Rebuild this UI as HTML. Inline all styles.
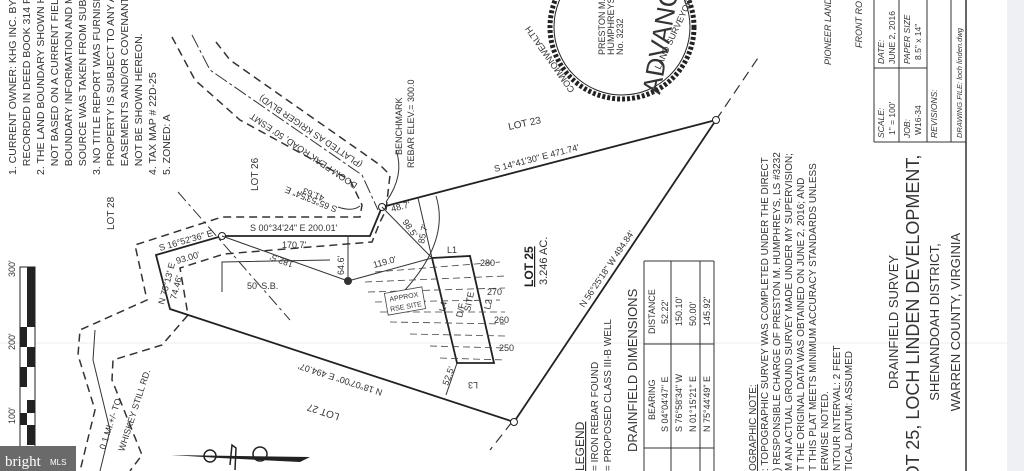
<!DOCTYPE html>
<html><head><meta charset="utf-8"><style>
html,body{margin:0;padding:0;background:#fff;}
svg{display:block;font-family:"Liberation Sans",sans-serif;}
</style></head><body>
<svg width="1024" height="471" viewBox="0 0 1024 471" xmlns="http://www.w3.org/2000/svg">
<rect width="1024" height="471" fill="#fff"/>
<rect x="1007" y="0" width="17" height="471" fill="#eef0f4"/>
<line x1="0" y1="343" x2="1024" y2="343" stroke="#eee" stroke-width="1"/>

<!-- notes -->
<g font-size="10.5" fill="#333">
<text transform="translate(16,175) rotate(-90)">1. CURRENT OWNER: KHG INC. BY DEED</text>
<text transform="translate(30,175) rotate(-90)">&#160;&#160;&#160;RECORDED IN DEED BOOK 314 PAGE</text>
<text transform="translate(44,175) rotate(-90)">2. THE LAND BOUNDARY SHOWN HEREON</text>
<text transform="translate(58,175) rotate(-90)">&#160;&#160;&#160;NOT BASED ON A CURRENT FIELD SURVEY</text>
<text transform="translate(72,175) rotate(-90)">&#160;&#160;&#160;BOUNDARY INFORMATION AND METES</text>
<text transform="translate(86,175) rotate(-90)">&#160;&#160;&#160;SOURCE WAS TAKEN FROM SUBDIVISION</text>
<text transform="translate(100,175) rotate(-90)">3. NO TITLE REPORT WAS FURNISHED</text>
<text transform="translate(114,175) rotate(-90)">&#160;&#160;&#160;PROPERTY IS SUBJECT TO ANY ADDITIONAL</text>
<text transform="translate(128,175) rotate(-90)">&#160;&#160;&#160;EASEMENTS AND/OR COVENANTS THAT</text>
<text transform="translate(142,175) rotate(-90)">&#160;&#160;&#160;NOT BE SHOWN HEREON.</text>
<text transform="translate(156,175) rotate(-90)">4. TAX MAP # 22D-25</text>
<text transform="translate(170,175) rotate(-90)">5. ZONED: A</text>
</g>

<!-- road dashed lines -->
<g fill="none" stroke="#333" stroke-width="1.5" stroke-dasharray="8,5">
<path d="M172,37 L195,80 L240,120 L350,180 L362,205 L360,217 L222,217 L135,245 L147,300 L80,330 L78,355 L95,410 L80,471"/>
<path d="M216,42 L230,60 L380,165 L390,175 L386,210 L380,222 L372,242 L224,254 L180,268 L188,315 L162,345 L113,360 L112,380 L142,455 L130,471"/>
</g>
<path d="M192,35 L210,70 L362,175 L378,210" fill="none" stroke="#333" stroke-width="1" stroke-dasharray="14,3,3,3"/>
<path d="M178,192 L290,320" fill="none" stroke="#333" stroke-width="1" stroke-dasharray="12,4,3,4"/>
<path d="M95,330 L93,360 L110,430 L100,471" fill="none" stroke="#333" stroke-width="1"/>
<path d="M716,120 L760,55" fill="none" stroke="#333" stroke-width="1.2" stroke-dasharray="10,6"/>
<path d="M512,422 L490,450" fill="none" stroke="#333" stroke-width="1.2" stroke-dasharray="10,6"/>

<!-- main boundary -->
<g fill="none" stroke="#222" stroke-width="1.8">
<path d="M382,207 L716,120 L514,422 L170,309 L156,255 L222,236 L370,236 L382,207"/>
<path d="M432,258 L470,256 L494,363 L457,363 Z"/>
</g>
<circle cx="382" cy="207" r="3.5" fill="#fff" stroke="#222"/>
<circle cx="716" cy="120" r="3.5" fill="#fff" stroke="#222"/>
<circle cx="514" cy="422" r="3.5" fill="#fff" stroke="#222"/>
<circle cx="222" cy="236" r="3.5" fill="#fff" stroke="#222"/>
<circle cx="348" cy="281" r="4" fill="#333"/>
<g stroke="#333" stroke-width="1" fill="none">
<line x1="222" y1="236" x2="348" y2="281"/>
<line x1="348" y1="281" x2="432" y2="258"/>
<line x1="348" y1="236" x2="348" y2="281"/>
<line x1="382" y1="207" x2="432" y2="258"/>
<line x1="418" y1="198" x2="432" y2="258"/>
<line x1="457" y1="363" x2="446" y2="395"/>
<path d="M222,292 L222,262 L330,260"/>
<path d="M436,196 Q450,240 405,290"/>
<path d="M338,207 Q352,212 360,206"/>
<path d="M396,150 Q405,175 386,202"/>
</g>
<!-- contour dashes -->
<g stroke="#444" stroke-width="0.8" stroke-dasharray="7,4">
<line x1="375" y1="272" x2="500" y2="262"/><line x1="365" y1="282" x2="505" y2="276"/>
<line x1="368" y1="292" x2="505" y2="288"/><line x1="375" y1="302" x2="500" y2="300"/>
<line x1="380" y1="312" x2="505" y2="312"/><line x1="390" y1="322" x2="505" y2="324"/>
<line x1="410" y1="334" x2="505" y2="336"/><line x1="430" y1="346" x2="505" y2="348"/>
<line x1="440" y1="358" x2="505" y2="360"/>
</g>
<rect x="386" y="290" width="38" height="22" fill="#fff" stroke="#444" stroke-width="0.8" transform="rotate(-10 405 301)"/>
<text x="390" y="299" font-size="7" fill="#333" transform="rotate(-10 405 301)">APPROX</text>
<text x="389" y="309" font-size="7" fill="#333" transform="rotate(-10 405 301)">RSE SITE</text>

<!-- labels on plan -->
<g font-size="9" fill="#333">
<text transform="translate(363,163) rotate(214)">(PLATTED AS KRIGER BLVD)</text>
<text transform="translate(358,184) rotate(214)">DOOM PEAK ROAD, 50' ESMT</text>
<text transform="translate(402,155) rotate(-90)">BENCHMARK</text>
<text transform="translate(414,168) rotate(-90)">REBAR ELEV.= 300.0</text>
<text transform="translate(258,191) rotate(-90)" font-size="10">LOT 26</text>
<text transform="translate(114,230) rotate(-90)" font-size="10">LOT 28</text>
<text x="509" y="130" font-size="10" transform="rotate(-12 509 130)">LOT 23</text>
<text x="495" y="172" transform="rotate(-14.6 495 172)">S 14°41'30" E  471.74'</text>
<text transform="translate(338,207) rotate(202)">S 65°53'54" E</text>
<text transform="translate(325,196) rotate(202)">41.63'</text>
<text x="250" y="231">S 00°34'24" E 200.01'</text>
<text x="282" y="248">170.7'</text>
<text x="160" y="251" transform="rotate(-16 160 251)">S 16°52'36" E</text>
<text x="177" y="264" transform="rotate(-16 177 264)">93.00'</text>
<text transform="translate(164,305) rotate(-75)">N 75°13' E</text>
<text transform="translate(176,300) rotate(-75)">74.46'</text>
<text transform="translate(294,262) rotate(200)">182.5'</text>
<text transform="translate(344,275) rotate(-90)">64.6'</text>
<text x="374" y="268" transform="rotate(-15 374 268)">119.0'</text>
<text x="392" y="212" transform="rotate(-15 392 212)">48.7'</text>
<text transform="translate(402,222) rotate(55)">98.5'</text>
<text transform="translate(424,244) rotate(-78)">85.7'</text>
<text x="247" y="289">50' S.B.</text>
<text x="447" y="253">L1</text>
<text x="480" y="266">280</text><text x="487" y="295">270</text>
<text x="494" y="323">260</text><text x="499" y="351">250</text>
<text transform="translate(478,382) rotate(180)">L3</text>
<text transform="translate(445,312) rotate(-78)">L4</text>
<text transform="translate(490,310) rotate(-78)">L2</text>
<text transform="translate(462,318) rotate(-78)">D/F</text>
<text transform="translate(470,312) rotate(-78)">SITE</text>
<text transform="translate(448,386) rotate(-70)">52.5'</text>
<text transform="translate(383,390) rotate(198)">N 18°07'00" E  494.07'</text>
<text transform="translate(340,414) rotate(198)" font-size="10">LOT 27</text>
<text transform="translate(584,308) rotate(-56)">N 56°25'18" W  494.84'</text>
<text transform="translate(105,450) rotate(-72)">0.1 MI.+/- TO</text>
<text transform="translate(124,452) rotate(-72)">WHISKEY STILL RD.</text>
</g>
<text transform="translate(533,287) rotate(-90)" font-size="12" font-weight="bold" fill="#222" text-decoration="underline">LOT 25</text>
<text transform="translate(547,285) rotate(-90)" font-size="11" fill="#333">3.246 AC.</text>

<!-- scale bar -->
<g>
<rect x="20" y="267" width="15" height="180" fill="#fff" stroke="#222" stroke-width="1"/>
<rect x="27" y="267" width="8" height="60" fill="#222"/>
<rect x="20" y="327" width="7" height="20" fill="#222"/>
<rect x="27" y="347" width="8" height="20" fill="#222"/>
<rect x="20" y="367" width="7" height="20" fill="#222"/>
<rect x="20" y="413" width="7" height="12" fill="#222"/>
<rect x="27" y="400" width="8" height="13" fill="#222"/>
<rect x="27" y="425" width="8" height="20" fill="#222"/>
<g font-size="9" fill="#333">
<text transform="translate(15,277) rotate(-90)">300'</text>
<text transform="translate(15,350) rotate(-90)">200'</text>
<text transform="translate(15,424) rotate(-90)">100'</text>
</g>
</g>
<rect x="0" y="446" width="76" height="25" fill="#6a6a6a"/>
<text x="5" y="466" font-family="Liberation Serif,serif" font-size="15" fill="#fff">bright</text>
<text x="50" y="465" font-size="8" fill="#fff">MLS</text>

<!-- north arrow -->
<path d="M171,455 L310,457 L300,462 L220,458 Z" fill="#222"/>
<circle cx="210" cy="456" r="6" fill="none" stroke="#222" stroke-width="1.5"/>
<circle cx="260" cy="454" r="7" fill="none" stroke="#222" stroke-width="1.5"/>
<path d="M230,465 L232,445 L236,448 L235,470" fill="none" stroke="#222" stroke-width="1.5"/>

<!-- seal -->
<circle cx="622" cy="27" r="72" fill="none" stroke="#222" stroke-width="5" stroke-dasharray="3,2"/>
<circle cx="622" cy="27" r="68" fill="none" stroke="#222" stroke-width="1"/>
<g font-size="9" fill="#333">
<text transform="translate(575,90) rotate(-125)">COMMONWEALTH</text>
<text transform="translate(605,55) rotate(-90)">PRESTON M.</text>
<text transform="translate(614,55) rotate(-90)">HUMPHREYS</text>
<text transform="translate(623,55) rotate(-90)">No. 3232</text>
<text transform="translate(660,70) rotate(-65)">LAND SURVEYOR</text>
</g>
<text transform="translate(660,95) rotate(-80)" font-size="26" fill="#333">ADVANCE</text>

<!-- pioneer -->
<g font-size="9" fill="#333" font-style="italic">
<text transform="translate(831,65) rotate(-90)">PIONEER LAND</text>
<text transform="translate(862,48) rotate(-90)">FRONT ROYAL</text>
</g>

<!-- title block -->
<g stroke="#333" stroke-width="1" fill="none">
<line x1="966" y1="0" x2="966" y2="471" stroke-width="1.5"/>
<line x1="874" y1="0" x2="874" y2="142"/>
<line x1="874" y1="142" x2="966" y2="142"/>
<line x1="874" y1="68" x2="927" y2="68"/>
<line x1="899" y1="0" x2="899" y2="142"/>
<line x1="927" y1="0" x2="927" y2="142"/>
<line x1="951" y1="0" x2="951" y2="142"/>
</g>
<g font-size="8.5" fill="#333">
<text transform="translate(884,138) rotate(-90)" font-style="italic">SCALE:</text>
<text transform="translate(895,135) rotate(-90)">1" = 100'</text>
<text transform="translate(884,64) rotate(-90)" font-style="italic">DATE:</text>
<text transform="translate(895,64) rotate(-90)">JUNE 2, 2016</text>
<text transform="translate(910,138) rotate(-90)" font-style="italic">JOB:</text>
<text transform="translate(921,135) rotate(-90)">W16-34</text>
<text transform="translate(910,64) rotate(-90)" font-style="italic">PAPER SIZE</text>
<text transform="translate(921,60) rotate(-90)">8.5" x 14"</text>
<text transform="translate(937,138) rotate(-90)" font-style="italic">REVISIONS:</text>
<text transform="translate(962,138) rotate(-90)" font-style="italic" font-size="7.5">DRAWING FILE: loch linden.dwg</text>
</g>
<g fill="#333" text-anchor="middle">
<text transform="translate(898,322) rotate(-90)" font-size="13">DRAINFIELD SURVEY</text>
<text transform="translate(919,322) rotate(-90)" font-size="18">LOT 25, LOCH LINDEN DEVELOPMENT,</text>
<text transform="translate(939,322) rotate(-90)" font-size="13">SHENANDOAH DISTRICT,</text>
<text transform="translate(960,322) rotate(-90)" font-size="13">WARREN COUNTY, VIRGINIA</text>
</g>

<!-- legend -->
<g font-size="10" fill="#333">
<text transform="translate(584,471) rotate(-90)" font-size="12" text-decoration="underline">LEGEND</text>
<text transform="translate(598,471) rotate(-90)">= IRON REBAR FOUND</text>
<text transform="translate(611,471) rotate(-90)">= PROPOSED CLASS III-B WELL</text>
<text transform="translate(637,452) rotate(-90)" font-size="13">DRAINFIELD DIMENSIONS</text>
</g>
<g stroke="#333" stroke-width="1" fill="none">
<line x1="644" y1="261" x2="644" y2="471"/>
<line x1="714" y1="261" x2="714" y2="471"/>
<line x1="644" y1="261" x2="714" y2="261"/>
<line x1="644" y1="344" x2="714" y2="344"/>
<line x1="644" y1="448" x2="714" y2="448"/>
<line x1="671" y1="261" x2="671" y2="471"/>
<line x1="700" y1="261" x2="700" y2="471"/>
</g>
<g font-size="9" fill="#333">
<text transform="translate(655,420) rotate(-90)">BEARING</text>
<text transform="translate(655,334) rotate(-90)">DISTANCE</text>
<text transform="translate(668,432) rotate(-90)">S 04°04'47" E</text>
<text transform="translate(668,324) rotate(-90)">52.22'</text>
<text transform="translate(682,432) rotate(-90)">S 76°58'34" W</text>
<text transform="translate(682,326) rotate(-90)">150.10'</text>
<text transform="translate(696,432) rotate(-90)">N 01°15'21" E</text>
<text transform="translate(696,326) rotate(-90)">50.00'</text>
<text transform="translate(710,432) rotate(-90)">N 75°44'49" E</text>
<text transform="translate(710,326) rotate(-90)">145.92'</text>
</g>

<!-- topo note -->
<g font-size="10" fill="#333">
<text transform="translate(756,471) rotate(-90)" text-decoration="underline">OGRAPHIC NOTE:</text>
<text transform="translate(768,471) rotate(-90)">: TOPOGRAPHIC SURVEY WAS COMPLETED UNDER THE DIRECT</text>
<text transform="translate(780,471) rotate(-90)">) RESPONSIBLE CHARGE OF PRESTON M. HUMPHREYS, LS #3232</text>
<text transform="translate(792,471) rotate(-90)">M AN ACTUAL GROUND SURVEY MADE UNDER MY SUPERVISION;</text>
<text transform="translate(804,471) rotate(-90)">T THE ORIGINAL DATA WAS OBTAINED ON JUNE 2, 2016; AND</text>
<text transform="translate(816,471) rotate(-90)">T THIS PLAT MEETS MINIMUM ACCURACY STANDARDS UNLESS</text>
<text transform="translate(828,471) rotate(-90)">ERWISE NOTED.</text>
<text transform="translate(840,471) rotate(-90)">NTOUR INTERVAL: 2 FEET</text>
<text transform="translate(852,471) rotate(-90)">TICAL DATUM: ASSUMED</text>
</g>
</svg>
</body></html>
